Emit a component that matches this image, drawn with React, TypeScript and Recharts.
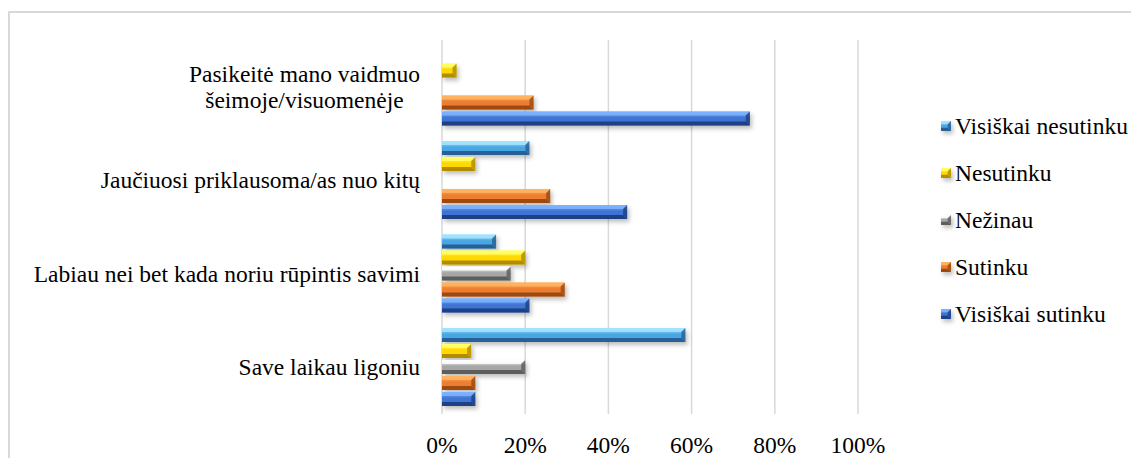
import React from 'react'
import { BarChart, Bar, XAxis, YAxis, CartesianGrid } from 'recharts'

// kategorijos iš viršaus į apačią
const categories = [
  'Pasikeitė mano vaidmuo\nšeimoje/visuomenėje',
  'Jaučiuosi priklausoma/as nuo kitų',
  'Labiau nei bet kada noriu rūpintis savimi',
  'Save laikau ligoniu',
]

// procentai, nuskaityti nuo paveikslo
const visiskaiNesutinku = [null, 21, 13, 58.5]
const nesutinku = [3.5, 8, 20, 7]
const nezinau = [null, null, 16.5, 20]
const sutinku = [22, 26, 29.5, 8]
const visiskaiSutinku = [74, 44.5, 21, 8]

const xTicks = [0, 20, 40, 60, 80, 100]

const FONT = "'Liberation Serif', 'Times New Roman', Tinos, 'DejaVu Serif', 'Noto Serif', serif"
const FS = 23.5

type S = { key: string; name: string; values: (number | null)[]; light: string; mid: string; dark: string }

const series: S[] = [
  { key: 'vn', name: 'Visiškai nesutinku', values: visiskaiNesutinku, light: '#a4e4ff', mid: '#4aa6e2', dark: '#24598f' },
  { key: 'ne', name: 'Nesutinku', values: nesutinku, light: '#ffff6a', mid: '#ffd800', dark: '#a88400' },
  { key: 'nz', name: 'Nežinau', values: nezinau, light: '#ffffff', mid: '#a6a6a6', dark: '#555555' },
  { key: 'su', name: 'Sutinku', values: sutinku, light: '#ffb461', mid: '#ed7d31', dark: '#93450f' },
  { key: 'vs', name: 'Visiškai sutinku', values: visiskaiSutinku, light: '#7db3ff', mid: '#3f74d2', dark: '#1b3b7c' },
]

const data = categories.map((name, i) => {
  const row: any = { name }
  series.forEach((s) => (row[s.key] = s.values[i]))
  return row
})

let measureCtx: CanvasRenderingContext2D | null = null
function textWidth(t: string) {
  if (!measureCtx) measureCtx = document.createElement('canvas').getContext('2d')
  if (!measureCtx) return t.length * FS * 0.45
  measureCtx.font = `${FS}px ${FONT}`
  return measureCtx.measureText(t).width
}

function BevelBar(props: any) {
  const { x, y, width, height, s, index } = props
  if (!width || width <= 0) return null
  const b = Math.min(4, width / 2, height / 3)
  const id = `grad-${s.key}-${index}`
  const r = x + width
  const bot = y + height
  return (
    <g style={{ filter: 'drop-shadow(2px 3px 2px rgba(0,0,0,0.25))' }}>
      <defs>
        <linearGradient id={id} x1="0" y1="0" x2="0" y2="1">
          <stop offset="0%" stopColor={s.light} />
          <stop offset="45%" stopColor={s.mid} />
          <stop offset="100%" stopColor={s.mid} />
        </linearGradient>
      </defs>
      <rect x={x} y={y} width={width} height={height} fill={`url(#${id})`} />
      <polygon points={`${x},${y} ${r},${y} ${r - b},${y + b} ${x},${y + b}`} fill={s.light} opacity={0.85} />
      <polygon points={`${x},${bot} ${r},${bot} ${r - b},${bot - b} ${x},${bot - b}`} fill={s.dark} opacity={0.9} />
      <polygon points={`${r},${y} ${r},${bot} ${r - b},${bot - b} ${r - b},${y + b}`} fill={s.dark} opacity={0.75} />
    </g>
  )
}

function CatTick({ x, y, payload }: any) {
  const lines: string[] = String(payload.value).split('\n')
  if (lines.length === 1) {
    return (
      <text x={x} y={y} dy="0.35em" textAnchor="end" fill="#000" fontSize={FS} style={{ fontFamily: FONT }}>
        {lines[0]}
      </text>
    )
  }
  const w = Math.max(...lines.map(textWidth))
  const lh = 26.6
  const cx = x - w / 2
  return (
    <text x={cx} y={y} textAnchor="middle" fill="#000" fontSize={FS} style={{ fontFamily: FONT }}>
      {lines.map((l, i) => (
        <tspan key={i} x={cx} y={y - ((lines.length - 1) * lh) / 2 + i * lh} dy="0.35em">
          {l}
        </tspan>
      ))}
    </text>
  )
}

function LegendMarker({ s }: { s: S }) {
  return (
    <svg width={11} height={11} style={{ display: 'block', overflow: 'visible' }}>
      <BevelBar x={0} y={0} width={10} height={10} s={s} index="lg" />
    </svg>
  )
}

export default function App() {
  const W = 1121
  const H = 445
  return (
    <div style={{ paddingTop: 3 }}>
      <div
        style={{
          position: 'relative',
          width: W,
          height: H,
          borderLeft: '2px solid #d9d9d9',
          borderTop: '2px solid #d9d9d9',
          background: '#fff',
        }}
      >
        <BarChart
          width={W}
          height={H}
          data={data}
          layout="vertical"
          margin={{ top: 27, right: 273, bottom: 0, left: 0 }}
          barCategoryGap="8%"
          barGap={2}
        >
          <CartesianGrid horizontal={false} stroke="#d9d9d9" strokeWidth={1.5} />
          <XAxis
            type="number"
            domain={[0, 100]}
            ticks={xTicks}
            tickFormatter={(v) => `${v}%`}
            axisLine={false}
            tickLine={false}
            tickMargin={16}
            height={44}
            interval={0}
            tick={{ fill: '#000', fontSize: FS, style: { fontFamily: FONT } }}
          />
          <YAxis
            type="category"
            dataKey="name"
            width={432}
            axisLine={false}
            tickLine={false}
            tickMargin={16}
            interval={0}
            tick={<CatTick />}
          />
          {series.map((s) => (
            <Bar
              key={s.key}
              dataKey={s.key}
              name={s.name}
              fill={s.mid}
              isAnimationActive={false}
              shape={(p: any) => <BevelBar {...p} s={s} />}
            />
          ))}
        </BarChart>
        <div
          style={{
            position: 'absolute',
            left: 931,
            top: 90,
            fontFamily: FONT,
            fontSize: FS,
            color: '#000',
          }}
        >
          {series.map((s) => (
            <div key={s.key} style={{ display: 'flex', alignItems: 'center', height: 47, gap: 3 }}>
              <LegendMarker s={s} />
              <span style={{ whiteSpace: 'nowrap' }}>{s.name}</span>
            </div>
          ))}
        </div>
      </div>
    </div>
  )
}
